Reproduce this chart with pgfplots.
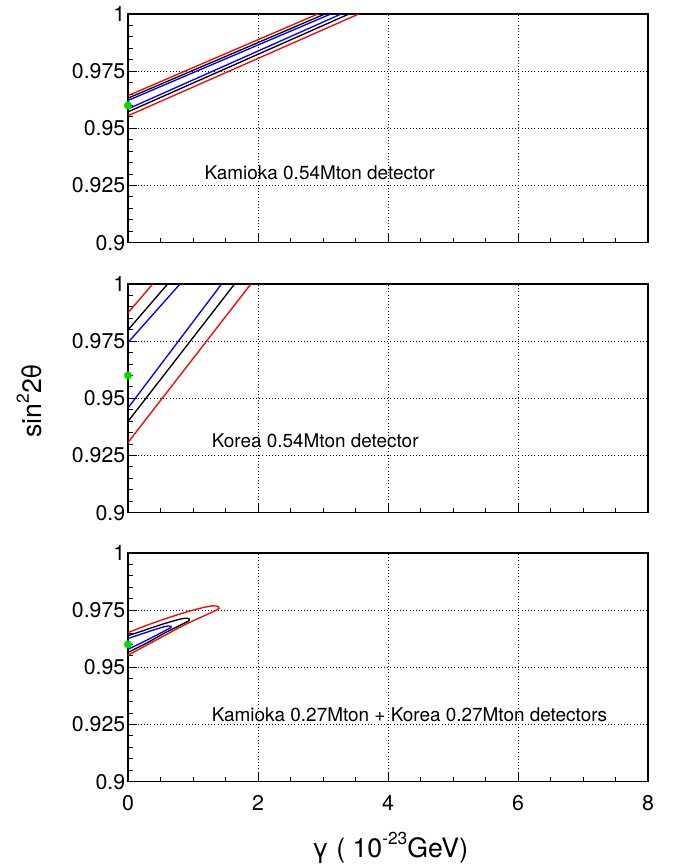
\documentclass[border=0pt]{standalone}
\usepackage{fontspec}
\setmainfont{TeX Gyre Heros}
\usepackage{pgfplots}
\pgfplotsset{compat=1.18}
\pgfplotsset{
  panel/.style={
    scale only axis, width=390pt, height=171.5pt,
    anchor=north west,
    xmin=0, xmax=8, ymin=0.9, ymax=1,
    xtick={0,2,4,6,8}, ytick={0.9,0.925,0.95,0.975,1},
    yticklabels={0.9,0.925,0.95,0.975,1},
    minor x tick num=3, minor y tick num=4,
    tick align=inside, xtick pos=bottom, ytick pos=left,
    major tick length=7pt, minor tick length=3.5pt,
    every tick/.style={black, line width=0.7pt},
    grid=major, major grid style={black, dotted, line width=0.6pt},
    axis line style={line width=1.1pt},
    tick label style={font=\fontsize{16}{19}\selectfont},
    /pgf/number format/assume math mode=true,
    yticklabel style={xshift=1.5pt},
    xticklabel style={yshift=-7pt},
    clip mode=individual,
  },
}
\tikzset{
  ctr/.style={line width=1pt},
  lbl/.style={font=\fontsize{14.2}{16}\selectfont},
  dot/.style={only marks, mark=*, mark size=2.8pt, color=green!90!black, draw=none, fill=green!85!black},
}
\begin{document}
\begin{tikzpicture}
\useasboundingbox (-96pt,0) rectangle (416.25pt,-650.25pt);
% top panel
\begin{axis}[panel, at={(0,-10.5pt)}, xticklabels={}]
\addplot[ctr, red]   coordinates {(0,0.9643) (2.92,1)};
\addplot[ctr, black] coordinates {(0,0.9632) (3.03,1)};
\addplot[ctr, blue]  coordinates {(0,0.9622) (3.12,1)};
\addplot[ctr, blue]  coordinates {(0,0.9585) (3.28,1)};
\addplot[ctr, black] coordinates {(0,0.9572) (3.40,1)};
\addplot[ctr, red]   coordinates {(0,0.9555) (3.55,1)};
\addplot[dot] coordinates {(0,0.96)};
\node[lbl] at (axis cs:2.95,0.9305) {Kamioka 0.54Mton detector};
\end{axis}
% middle panel
\begin{axis}[panel, at={(0,-213pt)}, xticklabels={}]
\addplot[ctr, red]   coordinates {(0,0.9874) (0.38,1)};
\addplot[ctr, black] coordinates {(0,0.9799) (0.61,1)};
\addplot[ctr, blue]  coordinates {(0,0.9744) (0.80,1)};
\addplot[ctr, blue]  coordinates {(0,0.9458) (1.44,1)};
\addplot[ctr, black] coordinates {(0,0.9399) (1.64,1)};
\addplot[ctr, red]   coordinates {(0,0.9307) (1.89,1)};
\addplot[dot] coordinates {(0,0.96)};
\node[lbl] at (axis cs:2.88,0.9316) {Korea 0.54Mton detector};
\end{axis}
% bottom panel
\begin{axis}[panel, at={(0,-414.75pt)}, xticklabels={0,2,4,6,8}]
\addplot[ctr, red, smooth] coordinates {
 (0,0.9652) (0.3,0.9685) (0.6,0.9715) (0.9,0.9742) (1.15,0.9761) (1.3,0.9769)
 (1.39,0.9766) (1.40,0.9758) (1.33,0.9746) (1.2,0.9729) (0.9,0.9690)
 (0.6,0.9645) (0.3,0.9599) (0,0.9553)};
\addplot[ctr, black, smooth] coordinates {
 (0,0.9638) (0.25,0.9662) (0.5,0.9686) (0.75,0.9707) (0.88,0.9715)
 (0.945,0.9711) (0.92,0.9701) (0.8,0.9684) (0.55,0.9648) (0.3,0.9608) (0,0.9565)};
\addplot[ctr, blue, smooth] coordinates {
 (0,0.9626) (0.2,0.9645) (0.4,0.9664) (0.55,0.9677) (0.63,0.9681)
 (0.665,0.9676) (0.6,0.9665) (0.4,0.9635) (0.2,0.9606) (0,0.9579)};
\addplot[dot] coordinates {(0,0.96)};
\node[lbl] at (axis cs:4.33,0.9293) {Kamioka 0.27Mton + Korea 0.27Mton detectors};
\end{axis}
% axis titles
\node[rotate=90, font=\fontsize{20}{24}\selectfont] at (-74pt,-300.5pt) {sin\raisebox{0.9ex}{\fontsize{13}{15}\selectfont 2}2θ};
\node[font=\fontsize{20}{24}\selectfont] at (196.5pt,-636pt) {γ ( 10\raisebox{0.9ex}{\fontsize{13}{15}\selectfont -23}GeV)};
\end{tikzpicture}
\end{document}
